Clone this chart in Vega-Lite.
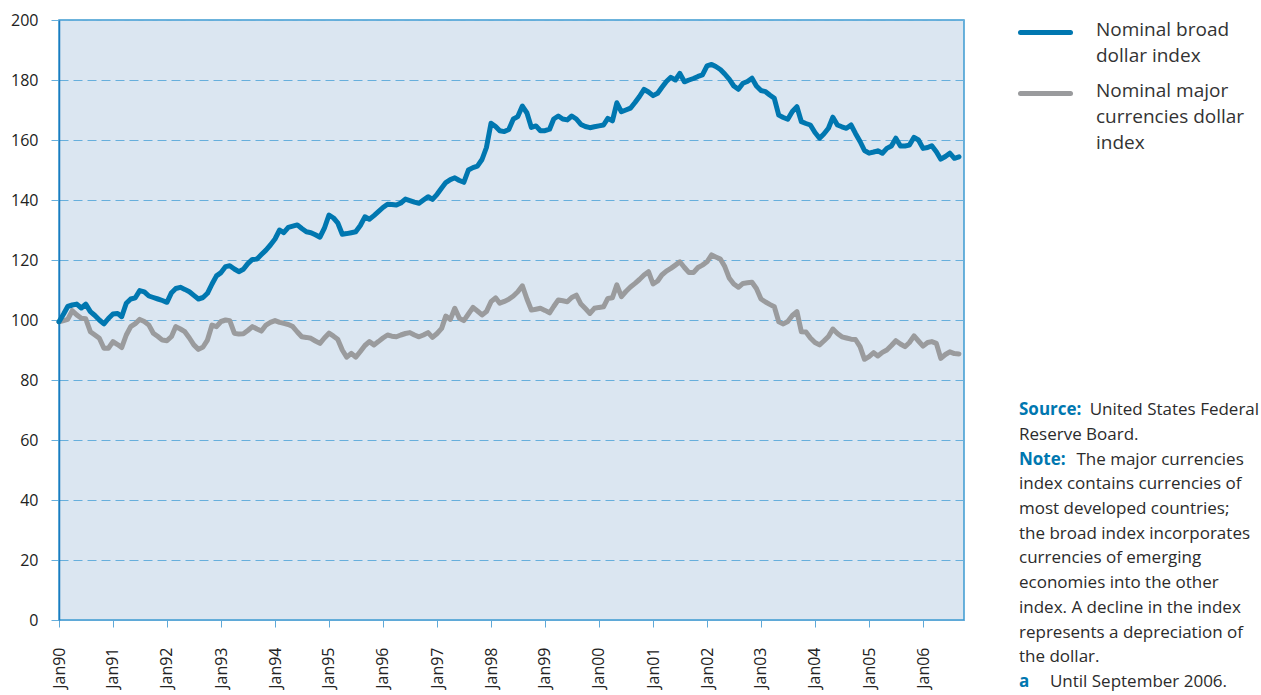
{
  "$schema": "https://vega.github.io/schema/vega-lite/v6.json",
  "width": 905,
  "height": 600,
  "autosize": {"type": "none"},
  "padding": {"left": 59, "top": 20, "right": 297, "bottom": 75},
  "background": "white",
  "config": {
    "view": {"fill": "#dbe6f1", "stroke": "#3d9ad1", "strokeWidth": 1.5},
    "font": "Open Sans"
  },
  "title": {
    "text": ["Source:", "\u200b", "Note:", "\u200b", "\u200b", "\u200b", "\u200b", "\u200b", "\u200b", "\u200b", "\u200b", "a"],
    "subtitle": [
      "\u200b\u00a0\u00a0\u00a0\u00a0\u00a0\u00a0\u00a0\u00a0\u00a0\u00a0\u00a0\u00a0\u00a0\u00a0\u00a0\u00a0United States Federal",
      "Reserve Board.",
      "\u200b\u00a0\u00a0\u00a0\u00a0\u00a0\u00a0\u00a0\u00a0\u00a0\u00a0\u00a0\u00a0\u00a0The major currencies",
      "index contains currencies of",
      "most developed countries;",
      "the broad index incorporates",
      "currencies of emerging",
      "economies into the other",
      "index. A decline in the index",
      "represents a depreciation of",
      "the dollar.",
      "\u200b\u00a0\u00a0\u00a0\u00a0\u00a0\u00a0\u00a0Until September 2006."
    ],
    "anchor": "start",
    "frame": "group",
    "orient": "top",
    "dx": 960,
    "dy": 690,
    "font": "Open Sans",
    "subtitleFont": "Open Sans",
    "fontSize": 17,
    "subtitleFontSize": 17,
    "fontWeight": "bold",
    "subtitleFontWeight": "normal",
    "color": "#0077b0",
    "subtitleColor": "#2b2b2b",
    "lineHeight": 24.7,
    "subtitleLineHeight": 24.7,
    "subtitlePadding": -288.7
  },
  "data": {
    "values": [
      {"d":"1990-01","b":99.4,"m":99.4},{"d":"1990-02","b":102,"m":99.8},{"d":"1990-03","b":104.5,"m":100.2},{"d":"1990-04","b":105,"m":103.1},{"d":"1990-05","b":105.3,"m":101.7},{"d":"1990-06","b":104,"m":100.6},{"d":"1990-07","b":105.3,"m":100.4},{"d":"1990-08","b":102.8,"m":96.1},{"d":"1990-09","b":101.5,"m":95},{"d":"1990-10","b":100,"m":93.9},{"d":"1990-11","b":98.7,"m":90.6},{"d":"1990-12","b":100.5,"m":90.6},
      {"d":"1991-01","b":102,"m":92.8},{"d":"1991-02","b":102.2,"m":91.8},{"d":"1991-03","b":101.1,"m":90.8},{"d":"1991-04","b":105.6,"m":95},{"d":"1991-05","b":107,"m":97.8},{"d":"1991-06","b":107.4,"m":98.8},{"d":"1991-07","b":109.8,"m":100.2},{"d":"1991-08","b":109.4,"m":99.5},{"d":"1991-09","b":108,"m":98.3},{"d":"1991-10","b":107.5,"m":95.6},{"d":"1991-11","b":107,"m":94.5},{"d":"1991-12","b":106.5,"m":93.3},
      {"d":"1992-01","b":105.9,"m":93.1},{"d":"1992-02","b":109.1,"m":94.5},{"d":"1992-03","b":110.5,"m":97.8},{"d":"1992-04","b":110.9,"m":97},{"d":"1992-05","b":110.2,"m":96.1},{"d":"1992-06","b":109.4,"m":94},{"d":"1992-07","b":108.2,"m":91.7},{"d":"1992-08","b":107,"m":90.2},{"d":"1992-09","b":107.5,"m":91},{"d":"1992-10","b":108.9,"m":93.3},{"d":"1992-11","b":112,"m":98.3},{"d":"1992-12","b":114.7,"m":97.8},
      {"d":"1993-01","b":115.8,"m":99.5},{"d":"1993-02","b":117.8,"m":100},{"d":"1993-03","b":118.1,"m":99.8},{"d":"1993-04","b":117,"m":95.6},{"d":"1993-05","b":116.1,"m":95.3},{"d":"1993-06","b":116.9,"m":95.4},{"d":"1993-07","b":118.8,"m":96.5},{"d":"1993-08","b":120.2,"m":97.8},{"d":"1993-09","b":120.3,"m":97},{"d":"1993-10","b":121.8,"m":96.3},{"d":"1993-11","b":123.3,"m":98.3},{"d":"1993-12","b":125,"m":99.2},
      {"d":"1994-01","b":127,"m":99.8},{"d":"1994-02","b":130,"m":99.2},{"d":"1994-03","b":129.1,"m":98.9},{"d":"1994-04","b":130.9,"m":98.5},{"d":"1994-05","b":131.3,"m":97.8},{"d":"1994-06","b":131.7,"m":96},{"d":"1994-07","b":130.5,"m":94.4},{"d":"1994-08","b":129.4,"m":94.2},{"d":"1994-09","b":129.1,"m":93.9},{"d":"1994-10","b":128.4,"m":93},{"d":"1994-11","b":127.6,"m":92.2},{"d":"1994-12","b":130.6,"m":94},
      {"d":"1995-01","b":135,"m":95.6},{"d":"1995-02","b":134,"m":94.6},{"d":"1995-03","b":132.4,"m":93.6},{"d":"1995-04","b":128.6,"m":90},{"d":"1995-05","b":128.8,"m":87.6},{"d":"1995-06","b":129.1,"m":88.9},{"d":"1995-07","b":129.4,"m":87.6},{"d":"1995-08","b":131.5,"m":89.5},{"d":"1995-09","b":134.4,"m":91.5},{"d":"1995-10","b":133.6,"m":92.8},{"d":"1995-11","b":134.8,"m":91.7},{"d":"1995-12","b":136.1,"m":92.8},
      {"d":"1996-01","b":137.5,"m":94},{"d":"1996-02","b":138.6,"m":95},{"d":"1996-03","b":138.5,"m":94.6},{"d":"1996-04","b":138.3,"m":94.4},{"d":"1996-05","b":139,"m":95},{"d":"1996-06","b":140.3,"m":95.5},{"d":"1996-07","b":139.8,"m":95.8},{"d":"1996-08","b":139.3,"m":95},{"d":"1996-09","b":138.9,"m":94.4},{"d":"1996-10","b":140,"m":95},{"d":"1996-11","b":141.1,"m":95.8},{"d":"1996-12","b":140.2,"m":94.2},
      {"d":"1997-01","b":141.9,"m":95.5},{"d":"1997-02","b":144,"m":97.2},{"d":"1997-03","b":145.8,"m":101.3},{"d":"1997-04","b":146.8,"m":100.2},{"d":"1997-05","b":147.4,"m":103.9},{"d":"1997-06","b":146.5,"m":100.6},{"d":"1997-07","b":145.9,"m":99.8},{"d":"1997-08","b":150,"m":102},{"d":"1997-09","b":150.8,"m":104.2},{"d":"1997-10","b":151.3,"m":103},{"d":"1997-11","b":153.5,"m":101.7},{"d":"1997-12","b":157.5,"m":102.8},
      {"d":"1998-01","b":165.6,"m":106.1},{"d":"1998-02","b":164.5,"m":107.4},{"d":"1998-03","b":163.1,"m":105.6},{"d":"1998-04","b":162.8,"m":106.2},{"d":"1998-05","b":163.5,"m":106.9},{"d":"1998-06","b":167,"m":108},{"d":"1998-07","b":167.8,"m":109.4},{"d":"1998-08","b":171.3,"m":111.4},{"d":"1998-09","b":169,"m":107},{"d":"1998-10","b":164.2,"m":103.3},{"d":"1998-11","b":164.7,"m":103.6},{"d":"1998-12","b":163.1,"m":103.9},
      {"d":"1999-01","b":163.1,"m":103.2},{"d":"1999-02","b":163.6,"m":102.4},{"d":"1999-03","b":167,"m":104.5},{"d":"1999-04","b":168,"m":106.7},{"d":"1999-05","b":167,"m":106.4},{"d":"1999-06","b":166.7,"m":106.1},{"d":"1999-07","b":168,"m":107.5},{"d":"1999-08","b":167,"m":108.3},{"d":"1999-09","b":165.2,"m":105.3},{"d":"1999-10","b":164.5,"m":103.8},{"d":"1999-11","b":164.1,"m":102.2},{"d":"1999-12","b":164.4,"m":103.9},
      {"d":"2000-01","b":164.7,"m":104.2},{"d":"2000-02","b":165,"m":104.4},{"d":"2000-03","b":167.2,"m":107.2},{"d":"2000-04","b":166.4,"m":107.4},{"d":"2000-05","b":172.4,"m":111.7},{"d":"2000-06","b":169.4,"m":107.8},{"d":"2000-07","b":170,"m":109.5},{"d":"2000-08","b":170.6,"m":111},{"d":"2000-09","b":172.5,"m":112.2},{"d":"2000-10","b":174.5,"m":113.5},{"d":"2000-11","b":176.9,"m":115},{"d":"2000-12","b":176,"m":116.1},
      {"d":"2001-01","b":174.8,"m":112},{"d":"2001-02","b":175.6,"m":113},{"d":"2001-03","b":177.5,"m":115},{"d":"2001-04","b":179.5,"m":116.3},{"d":"2001-05","b":180.9,"m":117.2},{"d":"2001-06","b":180,"m":118.3},{"d":"2001-07","b":182.2,"m":119.4},{"d":"2001-08","b":179.4,"m":117.5},{"d":"2001-09","b":180,"m":115.8},{"d":"2001-10","b":180.5,"m":115.8},{"d":"2001-11","b":181.2,"m":117.5},{"d":"2001-12","b":181.7,"m":118.3},
      {"d":"2002-01","b":184.7,"m":119.4},{"d":"2002-02","b":185.2,"m":121.7},{"d":"2002-03","b":184.5,"m":121},{"d":"2002-04","b":183.5,"m":120.3},{"d":"2002-05","b":182,"m":117.8},{"d":"2002-06","b":180.2,"m":113.9},{"d":"2002-07","b":178,"m":112},{"d":"2002-08","b":176.9,"m":110.9},{"d":"2002-09","b":178.9,"m":112.2},{"d":"2002-10","b":179.5,"m":112.4},{"d":"2002-11","b":180.6,"m":112.6},{"d":"2002-12","b":178,"m":110.5},
      {"d":"2003-01","b":176.5,"m":107},{"d":"2003-02","b":176.1,"m":106},{"d":"2003-03","b":175,"m":105.2},{"d":"2003-04","b":173.9,"m":104.4},{"d":"2003-05","b":168.3,"m":99.4},{"d":"2003-06","b":167.5,"m":98.7},{"d":"2003-07","b":166.9,"m":99.5},{"d":"2003-08","b":169.5,"m":101.5},{"d":"2003-09","b":171.1,"m":102.8},{"d":"2003-10","b":166.1,"m":96.1},{"d":"2003-11","b":165.5,"m":96},{"d":"2003-12","b":165,"m":94},
      {"d":"2004-01","b":162.5,"m":92.5},{"d":"2004-02","b":160.6,"m":91.7},{"d":"2004-03","b":162,"m":93},{"d":"2004-04","b":163.9,"m":94.5},{"d":"2004-05","b":167.6,"m":97},{"d":"2004-06","b":165,"m":95.5},{"d":"2004-07","b":164.4,"m":94.4},{"d":"2004-08","b":163.9,"m":94},{"d":"2004-09","b":165,"m":93.6},{"d":"2004-10","b":162.2,"m":93.5},{"d":"2004-11","b":159.5,"m":91.1},{"d":"2004-12","b":156.5,"m":86.9},
      {"d":"2005-01","b":155.6,"m":87.8},{"d":"2005-02","b":156,"m":89.1},{"d":"2005-03","b":156.4,"m":88},{"d":"2005-04","b":155.6,"m":89.2},{"d":"2005-05","b":157.2,"m":90},{"d":"2005-06","b":158,"m":91.5},{"d":"2005-07","b":160.6,"m":93.1},{"d":"2005-08","b":158,"m":92},{"d":"2005-09","b":158,"m":91.1},{"d":"2005-10","b":158.3,"m":92.5},{"d":"2005-11","b":160.9,"m":94.7},{"d":"2005-12","b":160,"m":93},
      {"d":"2006-01","b":157.2,"m":91.3},{"d":"2006-02","b":157.5,"m":92.5},{"d":"2006-03","b":158.1,"m":92.8},{"d":"2006-04","b":156.1,"m":92.2},{"d":"2006-05","b":153.6,"m":87.2},{"d":"2006-06","b":154.5,"m":88.5},{"d":"2006-07","b":155.6,"m":89.4},{"d":"2006-08","b":153.9,"m":88.8},{"d":"2006-09","b":154.4,"m":88.7}
    ]
  },
  "transform": [{"fold": ["m", "b"], "as": ["s", "v"]}],
  "mark": {"type": "line", "strokeWidth": 5, "strokeJoin": "round", "strokeCap": "round"},
  "encoding": {
    "x": {
      "field": "d",
      "type": "temporal",
      "scale": {"type": "utc", "domain": [{"year": 1990, "month": 1, "date": 1, "utc": true}, {"year": 2006, "month": 10, "date": 5, "utc": true}]},
      "axis": {
        "title": null,
        "values": [
          {"year": 1990, "month": 1, "date": 1, "utc": true}, {"year": 1991, "month": 1, "date": 1, "utc": true}, {"year": 1992, "month": 1, "date": 1, "utc": true}, {"year": 1993, "month": 1, "date": 1, "utc": true}, {"year": 1994, "month": 1, "date": 1, "utc": true}, {"year": 1995, "month": 1, "date": 1, "utc": true}, {"year": 1996, "month": 1, "date": 1, "utc": true}, {"year": 1997, "month": 1, "date": 1, "utc": true}, {"year": 1998, "month": 1, "date": 1, "utc": true}, {"year": 1999, "month": 1, "date": 1, "utc": true}, {"year": 2000, "month": 1, "date": 1, "utc": true}, {"year": 2001, "month": 1, "date": 1, "utc": true}, {"year": 2002, "month": 1, "date": 1, "utc": true}, {"year": 2003, "month": 1, "date": 1, "utc": true}, {"year": 2004, "month": 1, "date": 1, "utc": true}, {"year": 2005, "month": 1, "date": 1, "utc": true}, {"year": 2006, "month": 1, "date": 1, "utc": true}
        ],
        "format": "%b%y",
        "labelAngle": -90,
        "labelAlign": "right",
        "labelBaseline": "middle",
        "labelPadding": 20,
        "labelFontSize": 16,
        "labelColor": "#222222",
        "labelFlush": false,
        "labelOverlap": false,
        "tickSize": 7,
        "tickColor": "#5fa9d8",
        "domainColor": "#5fa9d8",
        "grid": false
      }
    },
    "y": {
      "field": "v",
      "type": "quantitative",
      "scale": {"domain": [0, 200], "nice": false},
      "axis": {
        "title": null,
        "values": [0, 20, 40, 60, 80, 100, 120, 140, 160, 180, 200],
        "grid": true,
        "gridColor": "#67afdc",
        "gridDash": [9, 5],
        "gridWidth": 1,
        "tickSize": 8,
        "tickColor": "#67afdc",
        "domainColor": "#1a7bbf",
        "domainWidth": 1.5,
        "labelFontSize": 16,
        "labelPadding": 13,
        "labelColor": "#222222"
      }
    },
    "color": {
      "field": "s",
      "type": "nominal",
      "scale": {"domain": ["b", "m"], "range": ["#0077b0", "#9a9b9d"]},
      "legend": {
        "orient": "none",
        "legendX": 959,
        "legendY": -15,
        "title": null,
        "symbolType": "stroke",
        "symbolSize": 2500,
        "symbolStrokeWidth": 5,
        "labelFont": "Open Sans",
        "labelFontSize": 19,
        "labelColor": "#333333",
        "labelOffset": 23,
        "labelLimit": 400,
        "rowPadding": -2,
        "labelBaseline": "top",
        "labelExpr": "datum.label == 'b' ? ['Nominal broad', 'dollar index'] : ['Nominal major', 'currencies dollar', 'index']",
        "encode": {
          "labels": {"update": {"dy": {"value": -12}, "lineHeight": {"value": 26}}},
          "symbols": {"update": {"strokeCap": {"value": "round"}}}
        }
      }
    }
  }
}
